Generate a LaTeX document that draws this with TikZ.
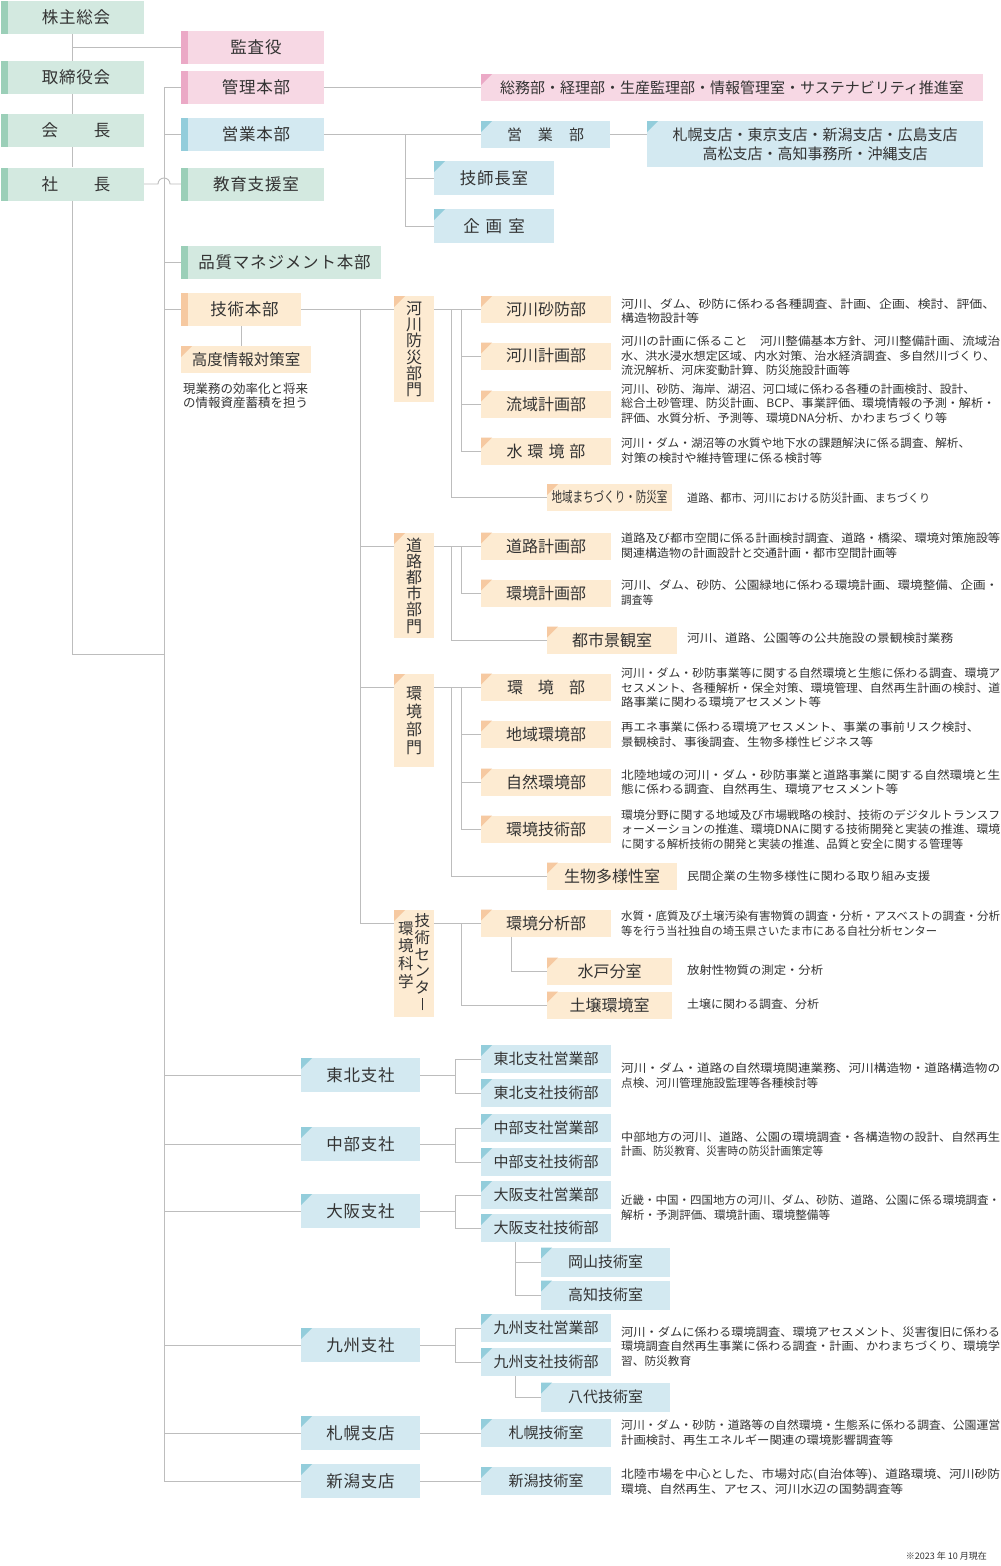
\documentclass[tikz,border=0pt]{standalone}
\usepackage{fontspec}
\usepackage{graphicx}
\setmainfont{Noto Sans CJK JP}
\definecolor{gF}{HTML}{D3E9E0}\definecolor{gD}{HTML}{9BCFB8}
\definecolor{pF}{HTML}{F7D8E4}\definecolor{pD}{HTML}{EBA9C6}
\definecolor{bF}{HTML}{D3E9F1}\definecolor{bD}{HTML}{93CDDB}
\definecolor{oF}{HTML}{FDEBD2}\definecolor{oD}{HTML}{F6C9A1}
\definecolor{lnC}{HTML}{BDBDBD}
\definecolor{txC}{HTML}{333333}
\newcommand\wl[2]{\resizebox{#1pt}{\height}{#2}}
\tikzset{
 ubase/.style={inner sep=0pt, text=txC, align=center, font=\fontsize{16.5}{18}\selectfont\addfontfeature{LetterSpace=5}},
 sbx/.style={ubase, fill=#1F, execute at begin node={\hspace*{7pt}}, path picture={\fill[#1D] (path picture bounding box.north west) rectangle ([xshift=7pt]path picture bounding box.south west);}},
 ebx/.style={ubase, fill=#1F, path picture={\fill[#1D] (path picture bounding box.north west) -- ++(11pt,0pt) -- ++(-11pt,-11pt) -- cycle;}},
 sz/.style 2 args={minimum width=#1pt, minimum height=#2pt},
 lnk/.style={draw=lnC, line width=0.9pt},
 dsc/.style={anchor=west, inner sep=0pt, text=txC, align=left, font=\fontsize{11.5}{14.5}\selectfont},
 f15/.style={font=\fontsize{15}{17}\selectfont},
 f16/.style={font=\fontsize{16}{18}\selectfont},
}
\begin{document}
\begin{tikzpicture}[x=1pt,y=-1pt]
\useasboundingbox[fill=white] (0,0) rectangle (1001,1566);
% ---------- top ----------
\node[sbx=g, sz={143}{33}] (kabu) at (72.5,17.5) {株主総会};
\node[sbx=g, sz={143}{33}] (tori) at (72.5,77.5) {取締役会};
\node[sbx=g, sz={143}{33}] (kaicho) at (72.5,130.5) {会\hspace{36pt}長};
\node[sbx=g, sz={143}{33}] (shacho) at (72.5,184) {社\hspace{36pt}長};
\node[sbx=p, sz={143}{33}] (kansa) at (252.5,47.5) {監査役};
\node[sbx=p, sz={143}{33}] (kanri) at (252.5,87.5) {管理本部};
\node[sbx=b, sz={143}{33}] (eigyo) at (252.5,134.5) {営業本部};
\node[sbx=g, sz={143}{33}] (kyoiku) at (252.5,184) {教育支援室};
\node[sbx=g, sz={200}{33}] (hinshitsu) at (281,262.5) {品質マネジメント本部};
\node[sbx=o, sz={120}{33}] (gijutsu) at (241,309.5) {技術本部};
\node[ebx=p, sz={502}{27}, f15] (somu) at (732,87.5) {総務部・経理部・生産監理部・情報管理室・サステナビリティ推進室};
\node[ebx=b, sz={129}{27}, f15] (eigyobu) at (545.5,134.5) {営\hspace{16pt}業\hspace{16pt}部};
\node[ebx=b, sz={336}{46}, font=\fontsize{15}{19}\selectfont] (shiten) at (815,144) {札幌支店・東京支店・新潟支店・広島支店\\高松支店・高知事務所・沖縄支店};
\node[ebx=b, sz={120}{34}] (gishi) at (494,178) {技師長室};
\node[ebx=b, sz={120}{34}] (kikaku) at (494,226) {企\hspace{6pt}画\hspace{6pt}室};
% ---------- tech ----------
\node[ebx=o, sz={130}{27}, font=\fontsize{15.5}{17}\selectfont] (kodo) at (246,359.5) {高度情報対策室};
\node[ubase, anchor=north west, align=left, font=\fontsize{12.5}{14}\selectfont] (kodotxt) at (183,382.5) {現業務の効率化と将来\\の情報資産蓄積を担う};
\node[ebx=o, sz={40}{106}, font=\fontsize{16}{16.2}\selectfont] (kasenbm) at (414,349) {河\\川\\防\\災\\部\\門};
\node[ebx=o, sz={40}{105}, font=\fontsize{16}{16.2}\selectfont] (dorobm) at (414,585.5) {道\\路\\都\\市\\部\\門};
\node[ebx=o, sz={40}{93}, font=\fontsize{16}{18}\selectfont] (kankyobm) at (414,720.5) {環\\境\\部\\門};
\node[ebx=o, sz={40}{107}, font=\fontsize{15.5}{15.5}\selectfont] (centerbm) at (414,963.5) {\raisebox{-8pt}{\begin{tabular}[t]{@{}c@{}}環\\境\\科\\学\end{tabular}}\hspace{1pt}\begin{tabular}[t]{@{}c@{}}技\\術\\セ\\ン\\タ\\\rule[-1pt]{1.3pt}{12pt}\end{tabular}};
\node[ebx=o, sz={130}{27}, f16] (ksb) at (546,309.5) {河川砂防部};
\node[ebx=o, sz={130}{27}, f16] (kkb) at (546,356) {河川計画部};
\node[ebx=o, sz={130}{27}, f16] (rkb) at (546,404) {流域計画部};
\node[ebx=o, sz={130}{27}, f16] (mkb) at (546,451) {水\hspace{5pt}環\hspace{5pt}境\hspace{5pt}部};
\node[ebx=o, sz={125}{27}, font=\fontsize{14.5}{16}\selectfont] (chiiki) at (609.5,497.5) {\wl{116}{地域まちづくり・防災室}};
\node[ebx=o, sz={130}{27}, f16] (dkb) at (546,546) {道路計画部};
\node[ebx=o, sz={130}{27}, f16] (kkeik) at (546,593) {環境計画部};
\node[ebx=o, sz={130}{27}, f16] (toshi) at (612,640) {都市景観室};
\node[ebx=o, sz={130}{27}, f16] (kb) at (546,687) {環\hspace{15pt}境\hspace{15pt}部};
\node[ebx=o, sz={130}{27}, f16] (chiikik) at (546,734) {地域環境部};
\node[ebx=o, sz={130}{27}, f16] (shizen) at (546,782) {自然環境部};
\node[ebx=o, sz={130}{27}, f16] (kgb) at (546,829) {環境技術部};
\node[ebx=o, sz={130}{27}, f16] (seibutsu) at (612,876) {生物多様性室};
\node[ebx=o, sz={130}{27}, f16] (bunseki) at (546,923) {環境分析部};
\node[ebx=o, sz={125}{27}, f16] (mito) at (609.5,971) {水戸分室};
\node[ebx=o, sz={125}{27}, f16] (dojo) at (609.5,1005) {土壌環境室};
% ---------- branches ----------
\node[ebx=b, sz={119}{34}] (tohoku) at (360.5,1075) {東北支社};
\node[ebx=b, sz={130}{28}, f15] (tes) at (546,1059) {東北支社営業部};
\node[ebx=b, sz={130}{28}, f15] (tgs) at (546,1093) {東北支社技術部};
\node[ebx=b, sz={119}{34}] (chubu) at (360.5,1144) {中部支社};
\node[ebx=b, sz={130}{28}, f15] (ces) at (546,1128) {中部支社営業部};
\node[ebx=b, sz={130}{28}, f15] (cgs) at (546,1162) {中部支社技術部};
\node[ebx=b, sz={119}{34}] (osaka) at (360.5,1211) {大阪支社};
\node[ebx=b, sz={130}{28}, f15] (oes) at (546,1195) {大阪支社営業部};
\node[ebx=b, sz={130}{28}, f15] (ogs) at (546,1228) {大阪支社技術部};
\node[ebx=b, sz={129}{29}, f15] (okayama) at (605.5,1262) {岡山技術室};
\node[ebx=b, sz={129}{29}, f15] (kochi) at (605.5,1295) {高知技術室};
\node[ebx=b, sz={119}{34}] (kyushu) at (360.5,1345) {九州支社};
\node[ebx=b, sz={130}{28}, f15] (kes) at (546,1328) {九州支社営業部};
\node[ebx=b, sz={130}{28}, f15] (kgs) at (546,1362) {九州支社技術部};
\node[ebx=b, sz={129}{29}, f15] (yatsu) at (605.5,1397) {八代技術室};
\node[ebx=b, sz={119}{34}] (sapporo) at (360.5,1433) {札幌支店};
\node[ebx=b, sz={130}{28}, f15] (sapg) at (546,1433) {札幌技術室};
\node[ebx=b, sz={119}{34}] (niigata) at (360.5,1481) {新潟支店};
\node[ebx=b, sz={130}{28}, f15] (nig) at (546,1481) {新潟技術室};
% ---------- descriptions ----------
\node[dsc] (d1) at (621,311) {\wl{374}{河川、ダム、砂防に係わる各種調査、計画、企画、検討、評価、}\\\wl{78}{構造物設計等}};
\node[dsc] (d2) at (621,356) {\wl{379}{河川の計画に係ること　河川整備基本方針、河川整備計画、流域治}\\\wl{374}{水、洪水浸水想定区域、内水対策、治水経済調査、多自然川づくり、}\\\wl{229}{流況解析、河床変動計算、防災施設計画等}};
\node[dsc] (d3) at (621,403.5) {\wl{354}{河川、砂防、海岸、湖沼、河口域に係わる各種の計画検討、設計、}\\\wl{374}{総合土砂管理、防災計画、BCP、事業評価、環境情報の予測・解析・}\\\wl{326}{評価、水質分析、予測等、環境DNA分析、かわまちづくり等}};
\node[dsc] (d4) at (621,450.5) {\wl{349}{河川・ダム・湖沼等の水質や地下水の課題解決に係る調査、解析、}\\\wl{201}{対策の検討や維持管理に係る検討等}};
\node[dsc] (d5) at (687,498) {\wl{243}{道路、都市、河川における防災計画、まちづくり}};
\node[dsc] (d6) at (621,545.5) {\wl{379}{道路及び都市空間に係る計画検討調査、道路・橋梁、環境対策施設等}\\\wl{276}{関連構造物の計画設計と交通計画・都市空間計画等}};
\node[dsc] (d7) at (621,592.5) {\wl{377}{河川、ダム、砂防、公園緑地に係わる環境計画、環境整備、企画・}\\\wl{32}{調査等}};
\node[dsc] (d8) at (687,638) {\wl{266}{河川、道路、公園等の公共施設の景観検討業務}};
\node[dsc] (d9) at (621,688) {\wl{379}{河川・ダム・砂防事業等に関する自然環境と生態に係わる調査、環境ア}\\\wl{379}{セスメント、各種解析・保全対策、環境管理、自然再生計画の検討、道}\\\wl{200}{路事業に関わる環境アセスメント等}};
\node[dsc] (d10) at (621,734.5) {\wl{358}{再エネ事業に係わる環境アセスメント、事業の事前リスク検討、}\\\wl{252}{景観検討、事後調査、生物多様性ビジネス等}};
\node[dsc] (d11) at (621,782) {\wl{379}{北陸地域の河川・ダム・砂防事業と道路事業に関する自然環境と生}\\\wl{277}{態に係わる調査、自然再生、環境アセスメント等}};
\node[dsc] (d12) at (621,829.5) {\wl{379}{環境分野に関する地域及び市場戦略の検討、技術のデジタルトランスフ}\\\wl{379}{ォーメーションの推進、環境DNAに関する技術開発と実装の推進、環境}\\\wl{342}{に関する解析技術の開発と実装の推進、品質と安全に関する管理等}};
\node[dsc] (d13) at (687,876) {\wl{243}{民間企業の生物多様性に関わる取り組み支援}};
\node[dsc] (d14) at (621,923.5) {\wl{379}{水質・底質及び土壌汚染有害物質の調査・分析・アスベストの調査・分析}\\\wl{316}{等を行う当社独自の埼玉県さいたま市にある自社分析センター}};
\node[dsc] (d15) at (687,970) {\wl{136}{放射性物質の測定・分析}};
\node[dsc] (d16) at (687,1004) {\wl{132}{土壌に関わる調査、分析}};
\node[dsc] (d17) at (621,1075.5) {\wl{379}{河川・ダム・道路の自然環境関連業務、河川構造物・道路構造物の}\\\wl{197}{点検、河川管理施設監理等各種検討等}};
\node[dsc] (d18) at (621,1144) {\wl{379}{中部地方の河川、道路、公園の環境調査・各構造物の設計、自然再生}\\\wl{202}{計画、防災教育、災害時の防災計画策定等}};
\node[dsc] (d19) at (621,1207.5) {\wl{379}{近畿・中国・四国地方の河川、ダム、砂防、道路、公園に係る環境調査・}\\\wl{209}{解析・予測評価、環境計画、環境整備等}};
\node[dsc] (d20) at (621,1346.5) {\wl{379}{河川・ダムに係わる環境調査、環境アセスメント、災害復旧に係わる}\\\wl{379}{環境調査自然再生事業に係わる調査・計画、かわまちづくり、環境学}\\\wl{70}{習、防災教育}};
\node[dsc] (d21) at (621,1432.5) {\wl{379}{河川・ダム・砂防・道路等の自然環境・生態系に係わる調査、公園運営}\\\wl{272}{計画検討、再生エネルギー関連の環境影響調査等}};
\node[dsc] (d22) at (621,1481.5) {\wl{379}{北陸市場を中心とした、市場対応(自治体等)、道路環境、河川砂防}\\\wl{282}{環境、自然再生、アセス、河川水辺の国勢調査等}};
\node[ubase, anchor=east, font=\fontsize{9}{10}\selectfont] (note) at (987,1556) {※2023 年 10 月現在};
% ---------- connectors ----------
\coordinate (s2) at (164,0);
\coordinate (tend) at (164,654);
\coordinate (hop) at (164,184);
\coordinate (ev) at (405,134.5);
\coordinate (tsp) at (360,309.5);
\coordinate (vi) at (461,0);
\coordinate (vo) at (451,0);
\coordinate (vm) at (511,0);
\coordinate (bv) at (455,0);
\coordinate (ov) at (515,0);
\draw[lnk] (kabu.south) -- (tori.north);
\draw[lnk] (tori.south) -- (kaicho.north);
\draw[lnk] (kaicho.south) -- (shacho.north);
\draw[lnk] (shacho.south) -- (shacho.south |- tend) -- (tend);
\draw[lnk] (kabu.south |- kansa.west) -- (kansa.west);
\draw[lnk] (s2 |- kanri.west) -- (s2 |- niigata.west);
\foreach \n in {kanri,eigyo,hinshitsu,gijutsu,tohoku,chubu,osaka,kyushu,sapporo,niigata}
  \draw[lnk] (s2 |- \n.west) -- (\n.west);
\draw[lnk] (shacho.east) -- ([xshift=-6pt]hop) arc[start angle=180,end angle=0,radius=6pt] -- (kyoiku.west);
\draw[lnk] (kanri.east) -- (somu.west);
\draw[lnk] (eigyo.east) -- (eigyobu.west);
\draw[lnk] (eigyobu.east) -- (eigyobu.east -| shiten.west);
\draw[lnk] (ev) |- (kikaku.west);
\draw[lnk] (ev |- gishi.west) -- (gishi.west);
% tech
\draw[lnk] (gijutsu.south) -- (gijutsu.south |- kodo.north);
\draw[lnk] (gijutsu.east) -- (gijutsu.east -| kasenbm.west);
\draw[lnk] (tsp) -- (tsp |- bunseki.west);
\draw[lnk] (tsp |- dkb.west) -- (dorobm.west |- dkb.west);
\draw[lnk] (tsp |- kb.west) -- (kankyobm.west |- kb.west);
\draw[lnk] (tsp |- bunseki.west) -- (centerbm.west |- bunseki.west);
\draw[lnk] (kasenbm.east |- ksb.west) -- (ksb.west);
\draw[lnk] (dorobm.east |- dkb.west) -- (dkb.west);
\draw[lnk] (kankyobm.east |- kb.west) -- (kb.west);
\draw[lnk] (centerbm.east |- bunseki.west) -- (bunseki.west);
\draw[lnk] (vi |- ksb.west) -- (vi |- mkb.west) -- (mkb.west);
\draw[lnk] (vi |- kkb.west) -- (kkb.west);
\draw[lnk] (vi |- rkb.west) -- (rkb.west);
\draw[lnk] (vo |- ksb.west) -- (vo |- chiiki.west) -- (chiiki.west);
\draw[lnk] (vi |- dkb.west) -- (vi |- kkeik.west) -- (kkeik.west);
\draw[lnk] (vo |- dkb.west) -- (vo |- toshi.west) -- (toshi.west);
\draw[lnk] (vi |- kb.west) -- (vi |- kgb.west) -- (kgb.west);
\draw[lnk] (vi |- chiikik.west) -- (chiikik.west);
\draw[lnk] (vi |- shizen.west) -- (shizen.west);
\draw[lnk] (vo |- kb.west) -- (vo |- seibutsu.west) -- (seibutsu.west);
\draw[lnk] (vi |- bunseki.west) -- (vi |- dojo.west) -- (dojo.west);
\draw[lnk] (vm |- bunseki.south) -- (vm |- mito.west) -- (mito.west);
% branches
\draw[lnk] (tohoku.east) -- (bv |- tohoku.east);
\draw[lnk] (tes.west) -- (bv |- tes.west) -- (bv |- tgs.west) -- (tgs.west);
\draw[lnk] (chubu.east) -- (bv |- chubu.east);
\draw[lnk] (ces.west) -- (bv |- ces.west) -- (bv |- cgs.west) -- (cgs.west);
\draw[lnk] (osaka.east) -- (bv |- osaka.east);
\draw[lnk] (oes.west) -- (bv |- oes.west) -- (bv |- ogs.west) -- (ogs.west);
\draw[lnk] (kyushu.east) -- (bv |- kyushu.east);
\draw[lnk] (kes.west) -- (bv |- kes.west) -- (bv |- kgs.west) -- (kgs.west);
\draw[lnk] (ov |- ogs.south) -- (ov |- kochi.west) -- (kochi.west);
\draw[lnk] (ov |- okayama.west) -- (okayama.west);
\draw[lnk] (ov |- kgs.south) -- (ov |- yatsu.west) -- (yatsu.west);
\draw[lnk] (sapporo.east) -- (sapg.west);
\draw[lnk] (niigata.east) -- (nig.west);
\end{tikzpicture}
\end{document}
